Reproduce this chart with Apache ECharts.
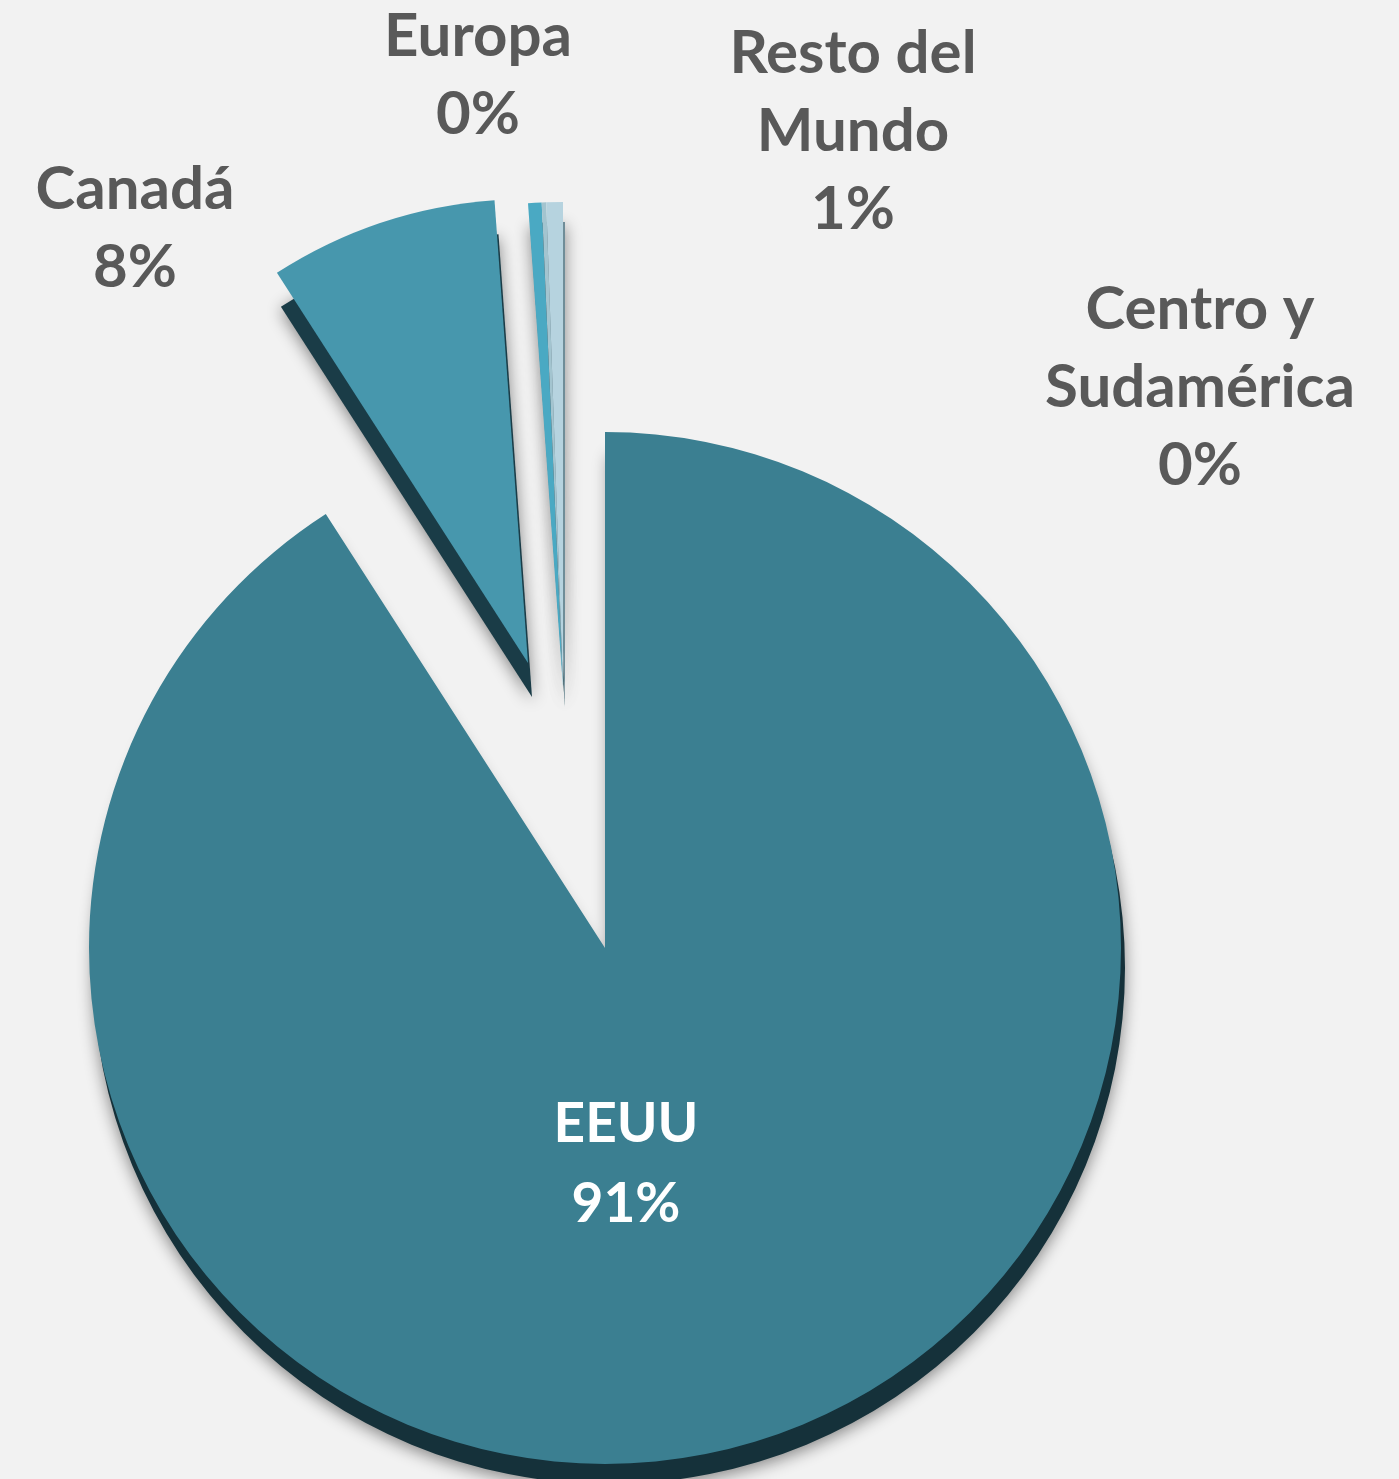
<!DOCTYPE html>
<html>
<head>
<meta charset="utf-8">
<title>Distribución por región</title>
<script src="https://cdn.jsdelivr.net/npm/echarts@6/dist/echarts.min.js"></script>
<style>
  html, body { margin: 0; padding: 0; background: #f2f2f2; }
  #chart { width: 1399px; height: 1479px; }
</style>
</head>
<body>
<div id="chart"></div>
<script>
// Regions and their share (%)
const regions = ["EEUU", "Canadá", "Europa", "Centro y Sudamérica", "Resto del Mundo"];
const shares = [90.9, 7.95, 0.45, 0.15, 0.55];
// label text as it is broken in the picture
const labelNames = ["EEUU", "Canadá", "Europa", "Centro y\nSudamérica", "Resto del\nMundo"];

const sliceColors = ["#3b7f91", "#4797ad", "#4aa9c3", "#a3c4cf", "#b6d3df"];
const sideColors = ["#15313a", "#1a3c47", "#1d4653", "#5f7f8a", "#6f8d98"];

// exploded groups: tip position, radius (far slices look smaller), extrusion offset
const groups = [
  { items: [0], center: [605, 948], radius: 516, depth: [4, 20] },
  { items: [1], center: [528, 663], radius: 464, depth: [4, 34] },
  { items: [2, 3, 4], center: [563, 687], radius: 485, depth: [2, 20] },
];

// where each label sits
const labelSpots = [[626, 1164], [135, 229], [478, 76], [1200, 388], [853, 132]];

const chart = echarts.init(document.getElementById("chart"));

function buildSeries(group, front) {
  const data = regions.map((name, i) => {
    const visible = group.items.includes(i);
    let color = "rgba(0,0,0,0)";
    if (visible) color = front ? sliceColors[i] : sideColors[i];
    const item = {
      name: name,
      value: shares[i],
      itemStyle: { color: color },
      label: { show: front && visible },
    };
    if (i === 0) {
      item.label.position = "inside";
      item.label.color = "#ffffff";
      item.label.fontSize = 55;
      item.label.lineHeight = 80;
    }
    return item;
  });

  const center = front
    ? group.center
    : [group.center[0] + group.depth[0], group.center[1] + group.depth[1]];

  return {
    type: "pie",
    center: center,
    radius: group.radius,
    startAngle: 90,
    clockwise: true,
    silent: true,
    animation: false,
    avoidLabelOverlap: false,
    minAngle: 0,
    padAngle: 0,
    itemStyle: front
      ? { borderWidth: 0 }
      : { borderWidth: 0, shadowBlur: 16, shadowOffsetY: 4, shadowColor: "rgba(0,0,0,0.45)" },
    label: {
      position: "outside",
      fontFamily: "Lato",
      fontWeight: "bold",
      fontSize: 60,
      lineHeight: 78,
      color: "#595959",
      align: "center",
      formatter: (p) => labelNames[p.dataIndex] + "\n" + Math.round(p.percent) + "%",
    },
    labelLine: { show: false },
    labelLayout: (p) => {
      const spot = labelSpots[p.dataIndex];
      return { x: spot[0], y: spot[1], align: "center", verticalAlign: "middle" };
    },
    emphasis: { disabled: true },
    data: data,
  };
}

const series = [];
groups.forEach((g) => series.push(buildSeries(g, false)));
groups.forEach((g) => series.push(buildSeries(g, true)));

chart.setOption({
  backgroundColor: "#f2f2f2",
  series: series,
});
</script>
</body>
</html>
